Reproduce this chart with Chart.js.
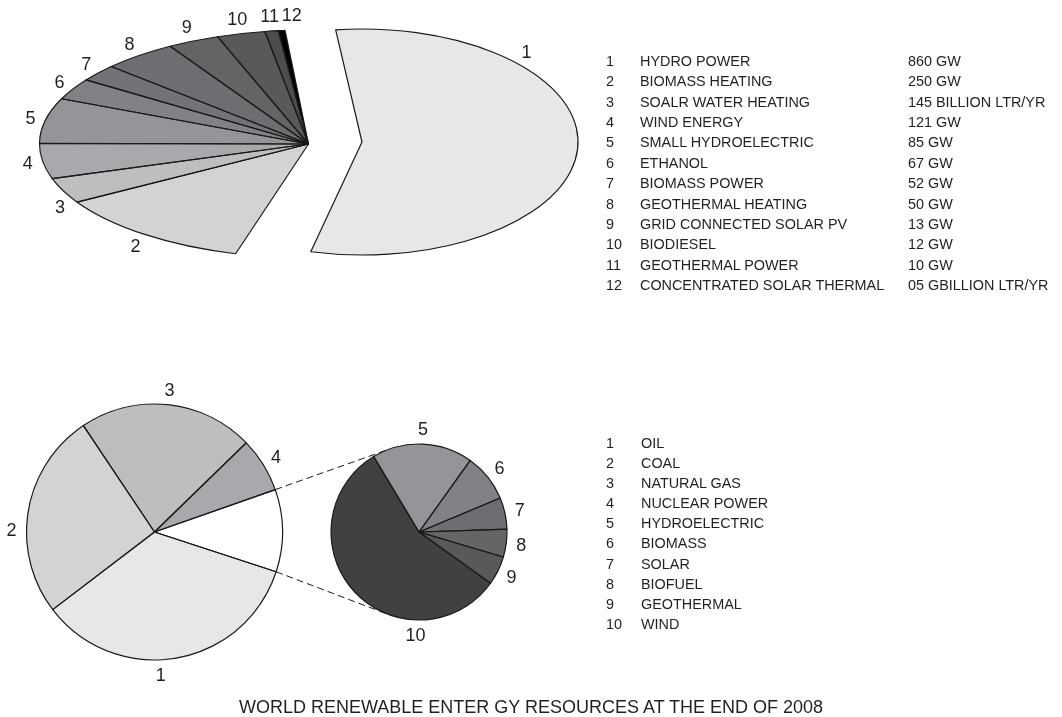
<!DOCTYPE html>
<html>
<head>
<meta charset="utf-8">
<title>World renewable energy resources at the end of 2008</title>
<script src="https://cdn.jsdelivr.net/npm/chart.js"></script>
<style>
  html, body { margin: 0; padding: 0; background: #fff; }
  #page { position: relative; width: 1062px; height: 717px; overflow: hidden;
          font-family: "Liberation Sans", Arial, Helvetica, sans-serif; color: #231f20; }
  #page canvas { position: absolute; }
  .num { position: absolute; font-size: 18px; line-height: 18px; white-space: nowrap;
         transform: translate(-50%, -50%); }
  .cell { position: absolute; font-size: 14.4px; line-height: 20px; white-space: nowrap; }
  #title { position: absolute; left: 0; width: 1062px; top: 696px; text-align: center;
           font-size: 18px; line-height: 22px; }
</style>
</head>
<body>
<div id="page">
  <canvas id="renewRest" width="617" height="288" style="left:0;top:0"></canvas>
  <canvas id="renewHydro" width="724" height="284" style="left:0;top:0"></canvas>
  <canvas id="energyMix" width="309" height="264" style="left:0;top:400px"></canvas>
  <canvas id="renewMix" width="200" height="200" style="left:319px;top:432px"></canvas>
  <canvas id="connectors" width="1062" height="717" style="left:0;top:0"></canvas>
  <div id="title">WORLD RENEWABLE ENTER GY RESOURCES AT THE END OF 2008</div>
</div>
<script>
// top chart: renewable capacity, slice sizes (percent of the pie)
const renewNames = ['HYDRO POWER', 'BIOMASS HEATING', 'SOALR WATER HEATING', 'WIND ENERGY',
  'SMALL HYDROELECTRIC', 'ETHANOL', 'BIOMASS POWER', 'GEOTHERMAL HEATING',
  'GRID CONNECTED SOLAR PV', 'BIODIESEL', 'GEOTHERMAL POWER', 'CONCENTRATED SOLAR THERMAL'];
const renewCapacity = ['860 GW', '250 GW', '145 BILLION LTR/YR', '121 GW', '85 GW', '67 GW',
  '52 GW', '50 GW', '13 GW', '12 GW', '10 GW', '05 GBILLION LTR/YR'];
const renewShare = [55.7, 12.1, 3.6, 5.0, 6.4, 3.0, 2.4, 4.5, 3.1, 2.9, 0.8, 0.4];
const renewColors = ['#e6e7e8', '#d1d3d4', '#bcbec0', '#a7a9ac', '#939598', '#808285',
  '#727376', '#6d6e71', '#636466', '#58595b', '#4d4d4f', '#000000'];

// bottom charts: world energy sources
const sourceNames = ['OIL', 'COAL', 'NATURAL GAS', 'NUCLEAR POWER', 'HYDROELECTRIC',
  'BIOMASS', 'SOLAR', 'BIOFUEL', 'GEOTHERMAL', 'WIND'];
const mixShare = [34.6, 26.0, 22.1, 6.9, 10.4];          // oil, coal, gas, nuclear, renewables
const mixColors = ['#e6e7e8', '#d1d3d4', '#bcbec0', '#a7a9ac', '#ffffff'];
const renewMixShare = [18.5, 8.8, 5.8, 5.1, 5.3, 56.5];  // hydro .. wind (items 5-10)
const renewMixColors = ['#939598', '#808285', '#6d6e71', '#646567', '#58595b', '#414042'];

// draws the pie squashed into an ellipse and outlines the visible slices
const ellipsePie = {
  id: 'ellipsePie',
  beforeDatasetsDraw(chart, args, opts) {
    const a = chart.getDatasetMeta(0).data[0];
    const ctx = chart.ctx;
    ctx.save();
    ctx.translate(a.x, a.y);
    ctx.scale(opts.sx, opts.sy);
    ctx.translate(-a.x, -a.y);
  },
  afterDatasetsDraw(chart, args, opts) {
    const ctx = chart.ctx;
    ctx.restore();
    ctx.save();
    ctx.lineWidth = opts.lineWidth;
    ctx.strokeStyle = '#1a1a1a';
    ctx.lineJoin = 'round';
    chart.getDatasetMeta(0).data.forEach((arc, i) => {
      if (opts.skip.includes(i)) return;
      ctx.beginPath();
      ctx.save();
      ctx.translate(arc.x, arc.y);
      ctx.scale(opts.sx, opts.sy);
      ctx.moveTo(0, 0);
      ctx.arc(0, 0, arc.outerRadius, arc.startAngle, arc.endAngle);
      ctx.closePath();
      ctx.restore();
      ctx.stroke();
    });
    ctx.restore();
  }
};

function makePie(id, labels, values, colors, rotation, radius, look) {
  return new Chart(document.getElementById(id), {
    type: 'pie',
    data: {
      labels: labels,
      datasets: [{ data: values, backgroundColor: colors, borderWidth: 0, radius: radius }]
    },
    options: {
      responsive: false,
      animation: false,
      events: [],
      rotation: rotation,
      radius: radius,
      layout: { padding: 0 },
      plugins: {
        legend: { display: false },
        tooltip: { enabled: false },
        ellipsePie: Object.assign({ sx: 1, sy: 1, lineWidth: 1.2, skip: [] }, look)
      }
    },
    plugins: [ellipsePie]
  });
}

const page = document.getElementById('page');

// slice numbers around a pie, placed just outside the outline
function placeNumbers(chart, first, gap, look, angleFix) {
  const cv = chart.canvas;
  chart.getDatasetMeta(0).data.forEach((arc, i) => {
    if ((look.skip || []).includes(i)) return;
    let a = (arc.startAngle + arc.endAngle) / 2;
    if (angleFix[i] !== undefined) a = angleFix[i] * Math.PI / 180;
    const sx = look.sx || 1, sy = look.sy || 1;
    const d = document.createElement('div');
    d.className = 'num';
    d.textContent = String(first + i);
    d.style.left = (cv.offsetLeft + arc.x + (arc.outerRadius * sx + gap) * Math.cos(a)) + 'px';
    d.style.top = (cv.offsetTop + arc.y + (arc.outerRadius * sy + gap) * Math.sin(a)) + 'px';
    page.appendChild(d);
  });
}

function addCell(text, left, top) {
  const d = document.createElement('div');
  d.className = 'cell';
  d.textContent = text;
  d.style.left = left + 'px';
  d.style.top = top + 'px';
  page.appendChild(d);
}

// top: hydro power drawn pulled out to the right, the rest on the left
const restLook = { sx: 269 / 114, sy: 1, skip: [0] };
const hydroLook = { sx: 216 / 113, sy: 1, skip: renewShare.map((v, i) => i).filter(i => i > 0) };
const restChart = makePie('renewRest', renewNames, renewShare,
  renewColors.map((c, i) => i === 0 ? 'transparent' : c), -5, 114, restLook);
const hydroChart = makePie('renewHydro', renewNames, renewShare,
  renewColors.map((c, i) => i === 0 ? c : 'transparent'), -7, 113, hydroLook);
placeNumbers(restChart, 1, 15, restLook, { 2: 151, 11: 266.6 });
placeNumbers(hydroChart, 1, 15, hydroLook, { 0: -44.6 });

// bottom: energy mix with the renewable share broken out
const mixChart = makePie('energyMix', sourceNames.slice(0, 4).concat(['RENEWABLES']),
  mixShare, mixColors, 108.1, 128, {});
const renewMixChart = makePie('renewMix', sourceNames.slice(4), renewMixShare,
  renewMixColors, 329, 88, {});
placeNumbers(mixChart, 1, 15, { skip: [4] }, { 0: 87.5, 1: 180.7 });
placeNumbers(renewMixChart, 5, 15, {}, { 5: 92 });

// dashed connectors from the renewables slice to the small pie
(function () {
  const ctx = document.getElementById('connectors').getContext('2d');
  const mc = mixChart.canvas, rc = renewMixChart.canvas;
  const w = mixChart.getDatasetMeta(0).data[4];
  const s = renewMixChart.getDatasetMeta(0).data[0];
  const cx = mc.offsetLeft + w.x, cy = mc.offsetTop + w.y;
  const sx = rc.offsetLeft + s.x, sy = rc.offsetTop + s.y, sr = s.outerRadius;
  ctx.strokeStyle = '#1a1a1a';
  ctx.lineWidth = 1;
  ctx.setLineDash([7, 4]);
  [[w.startAngle, 1], [w.endAngle, -1]].forEach(([ang, side]) => {
    const px = cx + w.outerRadius * Math.cos(ang), py = cy + w.outerRadius * Math.sin(ang);
    const dist = Math.hypot(px - sx, py - sy);
    const t = Math.atan2(py - sy, px - sx) + side * Math.acos(sr / dist);
    ctx.beginPath();
    ctx.moveTo(px, py);
    ctx.lineTo(sx + sr * Math.cos(t), sy + sr * Math.sin(t));
    ctx.stroke();
  });
})();

// legends
renewNames.forEach((name, i) => {
  const top = 61 + i * 20.36 - 10;
  addCell(String(i + 1), 606, top);
  addCell(name, 640, top);
  addCell(renewCapacity[i], 908, top);
});
sourceNames.forEach((name, i) => {
  const top = 442.7 + i * 20.15 - 10;
  addCell(String(i + 1), 606, top);
  addCell(name, 641, top);
});
</script>
</body>
</html>
